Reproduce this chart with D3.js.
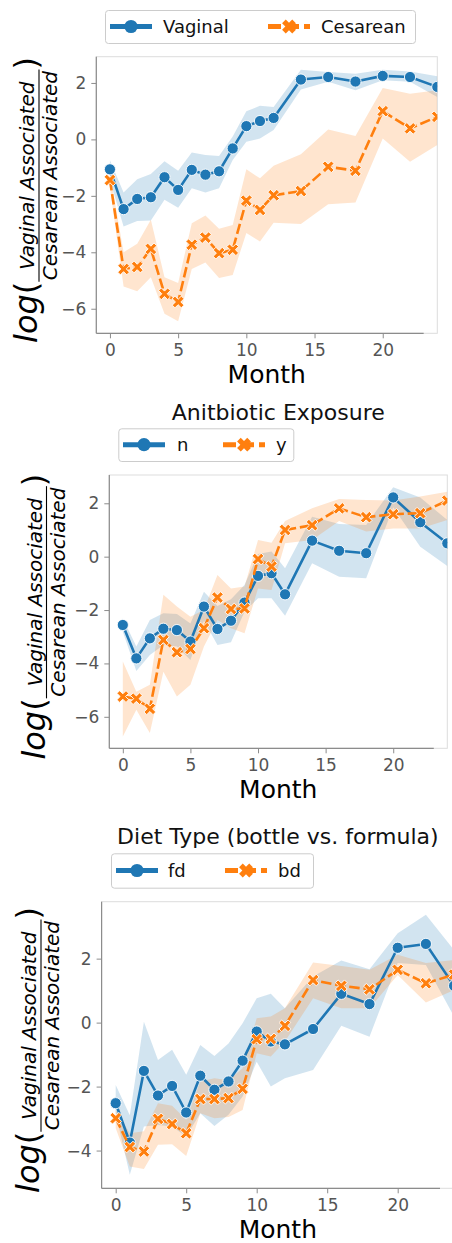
<!DOCTYPE html>
<html>
<head>
<meta charset="utf-8">
<script src="https://cdn.jsdelivr.net/npm/d3@7"></script>
<style>
  body { margin: 0; background: #fff; }
  svg { display: block; font-family: "DejaVu Sans", sans-serif; }
</style>
</head>
<body>
<svg id="chart" width="452" height="1243"></svg>
<script>
// ---- data -------------------------------------------------------------
const months = [0, 1, 2, 3, 4, 5, 6, 7, 8, 9, 10, 11, 12, 14, 16, 18, 20, 22, 24];
const xTicks = [0, 5, 10, 15, 20];

// Delivery mode
const vaginalMean = [-1.06, -2.47, -2.11, -2.05, -1.34, -1.79, -1.08, -1.25, -1.13, -0.32, 0.47, 0.65, 0.76, 2.12, 2.21, 2.05, 2.25, 2.21, 1.86];
const vaginalLow  = [-1.44, -3.09, -2.89, -2.87, -2.14, -2.42, -1.73, -1.88, -1.73, -0.73, -0.08, 0.03, 0.33, 1.77, 2.04, 1.74, 2.10, 2.04, 1.50];
const vaginalHigh = [-0.74, -1.88, -1.41, -1.23, -0.77, -1.11, -0.46, -0.55, -0.59, 0.10, 1.00, 1.19, 1.15, 2.47, 2.39, 2.33, 2.47, 2.41, 2.24];
const cesareanMean = [-1.44, -4.59, -4.52, -3.88, -5.47, -5.76, -3.73, -3.48, -4.03, -3.91, -2.17, -2.50, -1.98, -1.83, -0.97, -1.11, 1.00, 0.39, 0.80];
const cesareanLow  = [-1.70, -5.21, -5.38, -4.88, -6.18, -6.44, -4.59, -4.36, -4.91, -4.80, -3.32, -3.62, -2.95, -3.00, -2.30, -2.24, 0.03, -0.79, -0.20];
const cesareanHigh = [-1.20, -4.00, -3.70, -2.85, -4.88, -5.09, -2.97, -2.70, -3.17, -3.03, -1.06, -1.38, -0.93, -0.53, 0.35, 0.12, 1.82, 1.62, 1.74];

// Antibiotic exposure
const abxNMean = [-2.56, -3.81, -3.06, -2.70, -2.75, -3.18, -1.87, -2.71, -2.40, -1.72, -0.72, -0.62, -1.41, 0.60, 0.22, 0.13, 2.22, 1.29, 0.50];
const abxNLow  = [-2.81, -4.28, -3.68, -3.31, -3.37, -3.87, -2.40, -3.31, -3.21, -2.06, -1.56, -1.56, -2.21, -0.25, -0.75, -0.81, 1.85, 0.37, -0.35];
const abxNHigh = [-2.31, -3.37, -2.37, -2.12, -2.15, -2.50, -1.31, -1.85, -1.60, -1.06, 0.10, 0.19, -0.43, 1.50, 1.22, 1.19, 2.60, 2.22, 1.37];
const abxYMean = [-5.24, -5.32, -5.70, -3.12, -3.58, -3.46, -2.68, -1.53, -1.96, -1.94, -0.09, -0.37, 1.00, 1.18, 1.81, 1.48, 1.59, 1.63, 2.10];
const abxYLow  = [-6.74, -5.74, -6.61, -4.31, -5.24, -4.80, -3.37, -2.37, -2.68, -2.87, -1.19, -1.25, 0.50, 0.62, 1.34, 0.94, 1.06, 1.06, 1.37];
const abxYHigh = [-3.93, -5.06, -4.80, -1.43, -1.87, -2.25, -2.00, -0.69, -1.19, -1.12, 0.62, 0.52, 1.34, 1.81, 2.16, 2.12, 2.10, 2.25, 2.43];

// Diet type
const fdMean = [-2.52, -3.75, -1.51, -2.28, -1.98, -2.81, -1.66, -2.10, -1.84, -1.19, -0.28, -0.59, -0.68, -0.20, 0.90, 0.58, 2.34, 2.46, 1.15];
const fdLow  = [-2.83, -4.76, -3.25, -3.20, -3.25, -3.56, -2.83, -3.23, -2.88, -2.31, -1.22, -2.00, -1.74, -1.48, -0.10, -0.44, 1.86, 1.80, 0.19];
const fdHigh = [-1.95, -2.90, 0.03, -1.17, -0.85, -1.63, -0.70, -1.04, -0.65, -0.02, 0.76, 0.90, 0.45, 1.44, 1.94, 1.67, 2.79, 3.37, 2.27];
const bdMean = [-2.99, -3.89, -4.03, -3.01, -3.17, -3.46, -2.39, -2.39, -2.36, -2.07, -0.52, -0.51, -0.10, 1.33, 1.15, 1.04, 1.65, 1.23, 1.50];
const bdLow  = [-3.30, -4.50, -4.58, -3.82, -3.80, -4.17, -2.83, -2.99, -2.95, -2.73, -0.96, -1.06, -0.59, 0.76, 0.45, 0.45, 1.49, 0.63, 1.02];
const bdHigh = [-2.73, -3.46, -3.40, -2.52, -2.60, -3.04, -1.84, -1.74, -1.80, -1.43, 0.14, 0.19, 0.45, 1.88, 1.77, 1.65, 2.12, 1.86, 1.96];

const seriesNames1 = ["Vaginal", "Cesarean"];
const seriesNames2 = ["n", "y"];
const seriesNames3 = ["fd", "bd"];
const yTicks1 = [-6, -4, -2, 0, 2];
const yTicks2 = [-6, -4, -2, 0, 2];
const yTicks3 = [-4, -2, 0, 2];
const title2 = "Anitbiotic Exposure";
const title3 = "Diet Type (bottle vs. formula)";
const xLabel = "Month";
const yLabelNum = "Vaginal Associated";
const yLabelDen = "Cesarean Associated";

// ---- styling ----------------------------------------------------------
const BLUE = "#1f77b4", ORANGE = "#ff7f0e";
const TICK_COLOR = "#555555";
const SPINE_COLOR = "#8c8c8c";
const FRAME_COLOR = "#dddddd";

const svg = d3.select("#chart");

function rows(mean, low, high) {
  return months.map((m, i) => ({ m, v: mean[i], lo: low[i], hi: high[i] }));
}

const panels = [
  {
    box: { left: 96.3, right: 437.3, top: 56.7, bottom: 333.3 },
    yDomain: [-6.87, 2.93], yTicks: yTicks1, title: null,
    series: [rows(vaginalMean, vaginalLow, vaginalHigh), rows(cesareanMean, cesareanLow, cesareanHigh)],
    names: seriesNames1,
    legend: { x: 105, y: 10, w: 310, h: 33, items: [{ hx: 110, tx: 163 }, { hx: 268, tx: 321 }] },
    labelBarX: 39
  },
  {
    box: { left: 109.3, right: 447.3, top: 475, bottom: 748.3 },
    yDomain: [-7.18, 3.06], yTicks: yTicks2, title: title2, titleY: 420,
    series: [rows(abxNMean, abxNLow, abxNHigh), rows(abxYMean, abxYLow, abxYHigh)],
    names: seriesNames2,
    legend: { x: 118.3, y: 428.3, w: 175, h: 32.7, items: [{ hx: 123, tx: 177 }, { hx: 223, tx: 276 }] },
    labelBarX: 46.5
  },
  {
    box: { left: 101.6, right: 454.1, top: 901.7, bottom: 1188.3 },
    yDomain: [-5.18, 3.78], yTicks: yTicks3, title: title3, titleY: 844,
    series: [rows(fdMean, fdLow, fdHigh), rows(bdMean, bdLow, bdHigh)],
    names: seriesNames3,
    legend: { x: 111, y: 853.3, w: 202, h: 34.4, items: [{ hx: 116, tx: 168 }, { hx: 225, tx: 278 }] },
    labelBarX: 41
  }
];

// filled "X" marker path centred on the origin
function xMarkerPath(L, t) {
  const base = [[t, t], [t, L], [-t, L], [-t, t], [-L, t], [-L, -t], [-t, -t], [-t, -L], [t, -L], [t, -t], [L, -t], [L, t]];
  const c = Math.SQRT1_2;
  const pts = base.map(([x, y]) => [(x - y) * c, (x + y) * c]);
  return "M" + pts.map(p => p[0].toFixed(2) + "," + p[1].toFixed(2)).join("L") + "Z";
}

const styles = [
  { color: BLUE, dash: null, marker: "circle" },
  { color: ORANGE, dash: "10.5,3.8", marker: "x" }
];

panels.forEach((p, pi) => {
  const b = p.box;
  const x = d3.scaleLinear().domain([-1, 24]).range([b.left, b.right]);
  const y = d3.scaleLinear().domain(p.yDomain).range([b.bottom, b.top]);
  const g = svg.append("g");

  const clipId = "clip" + pi;
  svg.append("clipPath").attr("id", clipId)
    .append("rect").attr("x", b.left).attr("y", b.top)
    .attr("width", b.right - b.left).attr("height", b.bottom - b.top);

  // light outer frame
  g.append("rect").attr("x", b.left).attr("y", b.top)
    .attr("width", b.right - b.left).attr("height", b.bottom - b.top)
    .attr("fill", "none").attr("stroke", FRAME_COLOR).attr("stroke-width", 1);

  const plot = g.append("g").attr("clip-path", `url(#${clipId})`);

  // confidence bands
  p.series.forEach((data, si) => {
    const area = d3.area().x(d => x(d.m)).y0(d => y(d.lo)).y1(d => y(d.hi));
    plot.append("path").datum(data).attr("d", area)
      .attr("fill", styles[si].color).attr("fill-opacity", 0.2).attr("stroke", "none");
  });

  // mean lines with markers
  p.series.forEach((data, si) => {
    const st = styles[si];
    const line = d3.line().x(d => x(d.m)).y(d => y(d.v));
    const path = plot.append("path").datum(data).attr("d", line)
      .attr("fill", "none").attr("stroke", st.color).attr("stroke-width", 2.6)
      .attr("stroke-linejoin", "round");
    if (st.dash) path.attr("stroke-dasharray", st.dash);
    if (st.marker === "circle") {
      plot.selectAll(null).data(data).enter().append("circle")
        .attr("cx", d => x(d.m)).attr("cy", d => y(d.v)).attr("r", 5.6)
        .attr("fill", st.color).attr("stroke", "#fff").attr("stroke-width", 0.9);
    } else {
      plot.selectAll(null).data(data).enter().append("path")
        .attr("d", xMarkerPath(6.4, 1.9))
        .attr("transform", d => `translate(${x(d.m)},${y(d.v)})`)
        .attr("fill", st.color).attr("stroke", "#fff").attr("stroke-width", 0.9);
    }
  });

  // axes
  const yAxis = d3.axisLeft(y).tickValues(p.yTicks).tickSize(5).tickPadding(5)
    .tickFormat(d => d < 0 ? "\u2212" + Math.abs(d) : d);
  const ya = g.append("g").attr("transform", `translate(${b.left},0)`).call(yAxis);
  const xAxis = d3.axisBottom(x).tickValues(xTicks).tickSize(5).tickPadding(6);
  const xa = g.append("g").attr("transform", `translate(0,${b.bottom})`).call(xAxis);
  [ya, xa].forEach(a => {
    a.select(".domain").remove();
    a.selectAll(".tick line").attr("stroke", SPINE_COLOR).attr("stroke-width", 1);
    a.selectAll(".tick text").attr("fill", TICK_COLOR)
      .style("font-family", "DejaVu Sans").style("font-size", "17px");
  });
  // spines: full-height left, bottom trimmed to month 23
  g.append("line").attr("x1", b.left).attr("x2", b.left).attr("y1", b.top).attr("y2", b.bottom)
    .attr("stroke", SPINE_COLOR).attr("stroke-width", 1.2);
  g.append("line").attr("x1", b.left).attr("x2", x(23)).attr("y1", b.bottom).attr("y2", b.bottom)
    .attr("stroke", SPINE_COLOR).attr("stroke-width", 1.2);

  // x label
  g.append("text").attr("x", (b.left + b.right) / 2).attr("y", b.bottom + 50)
    .attr("text-anchor", "middle").attr("fill", "#000")
    .style("font-size", "25px").text(xLabel);

  // title
  if (p.title) {
    g.append("text").attr("x", (b.left + b.right) / 2).attr("y", p.titleY)
      .attr("text-anchor", "middle").attr("fill", "#111")
      .style("font-size", "22px").text(p.title);
  }

  // legend
  const L = p.legend;
  const lg = g.append("g");
  lg.append("rect").attr("x", L.x + 0.5).attr("y", L.y + 0.5).attr("width", L.w).attr("height", L.h)
    .attr("rx", 3).attr("fill", "#fff").attr("stroke", "#cccccc").attr("stroke-width", 1);
  const cy = L.y + L.h / 2;
  L.items.forEach((it, si) => {
    const st = styles[si];
    const hl = lg.append("line").attr("x1", it.hx).attr("x2", it.hx + 42).attr("y1", cy).attr("y2", cy)
      .attr("stroke", st.color).attr("stroke-width", 5);
    if (st.dash) hl.attr("stroke-dasharray", "13,5");
    const mx = it.hx + 21;
    if (st.marker === "circle") {
      lg.append("circle").attr("cx", mx).attr("cy", cy).attr("r", 6.6).attr("fill", st.color);
    } else {
      lg.append("path").attr("d", xMarkerPath(7.2, 2.6))
        .attr("transform", `translate(${mx},${cy})`).attr("fill", st.color);
    }
    lg.append("text").attr("x", it.tx).attr("y", cy + 6.5).attr("fill", "#111")
      .style("font-size", "18px").text(p.names[si]);
  });

  // y label: log( numerator / denominator ), rotated
  const F = 32, FF = 20;
  const lab = g.append("g");
  const tLog = lab.append("text").style("font-size", F + "px").style("font-style", "italic").text("log");
  const tOpen = lab.append("text").style("font-size", F + "px").text("(");
  const tNum = lab.append("text").style("font-size", FF + "px").style("font-style", "italic").text(yLabelNum);
  const tDen = lab.append("text").style("font-size", FF + "px").style("font-style", "italic").text(yLabelDen);
  const tClose = lab.append("text").style("font-size", F + "px").text(")");
  const wLog = tLog.node().getComputedTextLength();
  const wOpen = tOpen.node().getComputedTextLength();
  const wNum = tNum.node().getComputedTextLength();
  const wDen = tDen.node().getComputedTextLength();
  const wFrac = Math.max(wNum, wDen) + 3;
  const total = wLog + wOpen + wFrac + tClose.node().getComputedTextLength();
  const barDy = 2; // fraction bar offset from the baseline of "log("
  let cx0 = -total / 2;
  tLog.attr("x", cx0).attr("y", 0); cx0 += wLog;
  tOpen.attr("x", cx0).attr("y", 0); cx0 += wOpen;
  tNum.attr("x", cx0 + (wFrac - wNum) / 2).attr("y", barDy - 5);
  tDen.attr("x", cx0 + (wFrac - wDen) / 2).attr("y", barDy + 18);
  lab.append("line").attr("x1", cx0).attr("x2", cx0 + wFrac).attr("y1", barDy).attr("y2", barDy)
    .attr("stroke", "#000").attr("stroke-width", 1.1);
  cx0 += wFrac;
  tClose.attr("x", cx0).attr("y", 0);
  lab.attr("transform", `translate(${p.labelBarX - barDy},${(b.top + b.bottom) / 2 + 5}) rotate(-90)`);
});
</script>
</body>
</html>
